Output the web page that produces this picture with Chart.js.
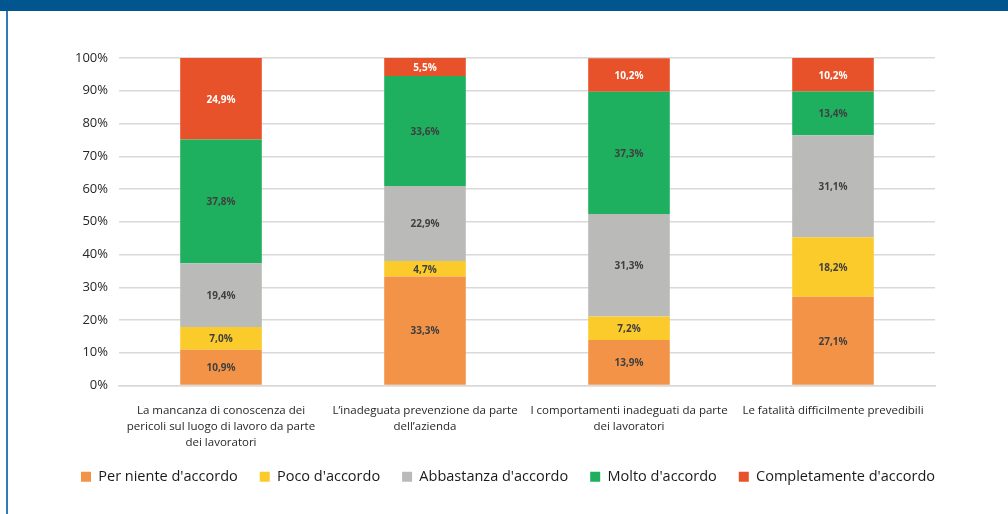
<!DOCTYPE html>
<html>
<head>
<meta charset="utf-8">
<script src="https://cdn.jsdelivr.net/npm/chart.js@4/dist/chart.umd.min.js"></script>
<style>
html,body{margin:0;padding:0;background:#fff;}
#wrap{position:relative;width:1008px;height:514px;overflow:hidden;background:#fff;}
#band{position:absolute;left:0;top:0;width:1008px;height:11px;background:#02568F;}
#side{position:absolute;left:6px;top:11px;width:2px;height:503px;background:#3479B3;}
canvas{position:absolute;left:0;top:0;}
</style>
</head>
<body>
<div id="wrap">
<canvas id="c" width="1008" height="514"></canvas>
<div id="band"></div>
<div id="side"></div>
</div>
<script>
const categories = [
  ["La mancanza di conoscenza dei", "pericoli sul luogo di lavoro da parte", "dei lavoratori"],
  ["L\u2019inadeguata prevenzione da parte", "dell\u2019azienda"],
  ["I comportamenti inadeguati da parte", "dei lavoratori"],
  ["Le fatalit\u00e0 difficilmente prevedibili"]
];
const seriesNames = ["Per niente d'accordo", "Poco d'accordo", "Abbastanza d'accordo", "Molto d'accordo", "Completamente d'accordo"];
const perNiente = [10.9, 33.3, 13.9, 27.1];
const poco = [7.0, 4.7, 7.2, 18.2];
const abbastanza = [19.4, 22.9, 31.3, 31.1];
const molto = [37.8, 33.6, 37.3, 13.4];
const completamente = [24.9, 5.5, 10.2, 10.2];
const yTicks = [0, 10, 20, 30, 40, 50, 60, 70, 80, 90, 100];

const colors = ["#F39347", "#FBCB2B", "#BABAB8", "#1EAF5F", "#E8522A"];
const labelColors = ["#404040", "#404040", "#404040", "#404040", "#FFFFFF"];
const seriesValues = [perNiente, poco, abbastanza, molto, completamente];

const FONT = "'Open Sans', 'Noto Sans', sans-serif";

const dataLabelPlugin = {
  id: 'dataLabels',
  afterDatasetsDraw(chart) {
    const ctx = chart.ctx;
    ctx.save();
    ctx.font = "bold 10px " + FONT;
    ctx.textAlign = 'center';
    ctx.textBaseline = 'middle';
    chart.data.datasets.forEach((ds, i) => {
      const meta = chart.getDatasetMeta(i);
      meta.data.forEach((el, j) => {
        const v = ds.data[j];
        const y = (el.y + el.base) / 2;
        ctx.fillStyle = labelColors[i];
        ctx.fillText(v.toFixed(1).replace('.', ',') + '%', el.x, y + 1);
      });
    });
    ctx.restore();
  }
};

new Chart(document.getElementById('c'), {
  type: 'bar',
  data: {
    labels: categories,
    datasets: seriesNames.map((n, i) => ({
      label: n,
      data: seriesValues[i],
      backgroundColor: colors[i],
      borderWidth: 0,
      barPercentage: 0.4,
      categoryPercentage: 1.0
    }))
  },
  options: {
    responsive: false,
    animation: false,
    devicePixelRatio: 1,
    layout: { padding: { left: 8, right: 0, top: 58, bottom: 20 } },
    plugins: {
      legend: {
        position: 'bottom',
        labels: {
          boxWidth: 10,
          boxHeight: 10,
          padding: 22,
          color: '#1a1a1a',
          font: { size: 14.5, family: FONT }
        }
      },
      tooltip: { enabled: false }
    },
    scales: {
      x: {
        stacked: true,
        grid: { display: false, drawTicks: false },
        border: { display: true, color: '#D9D9D9', width: 1.5 },
        ticks: {
          color: '#262626',
          font: { size: 11.5, family: FONT, lineHeight: 1.4 },
          maxRotation: 0,
          autoSkip: false,
          padding: 17
        },
        afterFit(scale) { scale.height = 62; }
      },
      y: {
        stacked: true,
        min: 0,
        max: 100,
        afterBuildTicks(scale) { scale.ticks = yTicks.map(v => ({ value: v })); },
        grid: { color: '#D9D9D9', lineWidth: 1.5, drawTicks: false },
        border: { display: false },
        ticks: {
          color: '#262626',
          font: { size: 13, family: FONT },
          padding: 11,
          callback: v => v + '%'
        },
        afterFit(scale) { scale.width = 111; }
      },
      yRight: {
        position: 'right',
        display: true,
        grid: { display: false, drawTicks: false },
        border: { display: false },
        ticks: { display: false },
        afterFit(scale) { scale.width = 73; }
      }
    }
  },
  plugins: [dataLabelPlugin]
});
</script>
</body>
</html>
